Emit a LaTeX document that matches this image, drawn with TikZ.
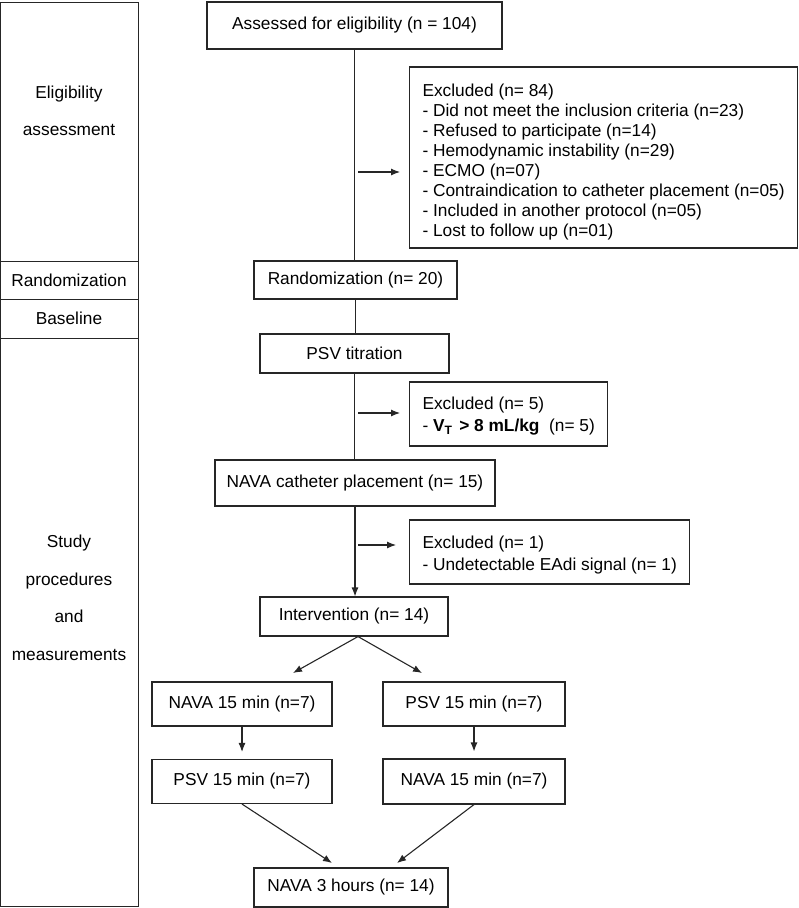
\documentclass[tikz,border=0pt]{standalone}
\usepackage{fontspec}
\setmainfont{Liberation Sans}
\usepackage{xcolor}
\usepackage{tikz}
\usetikzlibrary{calc}
\usetikzlibrary{arrows.meta}
\colorlet{boxline}{black!85}

\begin{document}
\begin{tikzpicture}[
		x=1pt,y=-1pt,
		FlowBox/.style={draw=boxline,line width=1.1pt,inner sep=0pt,align=center},
		ExclBox/.style={draw=boxline,line width=1.1pt,inner xsep=13pt,inner ysep=0pt,align=left,anchor=west},
		StageLabel/.style={align=center,font=\fontsize{17.3}{37.5}\selectfont},
		Flow/.style={draw=boxline,line width=1.1pt},
		FlowArrow/.style={draw=boxline,line width=1.1pt,-{Latex[length=9pt, width=7pt]}},
		every node/.style={font=\fontsize{17.3}{20}\selectfont}
		]
		\useasboundingbox (0,0) rectangle (799,908);
		
		% stages on the left
		\draw[boxline,line width=1pt] (0.5,2) rectangle (138,906);
		\draw[boxline,line width=1pt] (0.5,261)--(138,261);
		\draw[boxline,line width=1pt] (0.5,299)--(138,299);
		\draw[boxline,line width=1pt] (0.5,338)--(138,338);
		
		\node[StageLabel] (StElig) at (69,111) {Eligibility\\assessment};
		\node[StageLabel] (StRand) at (69,280) {Randomization};
		\node[StageLabel] (StBase) at (69,318) {Baseline};
		\node[StageLabel] (StProc) at (69,598) {Study\\procedures\\and\\measurements};
		
		% main column
		\node[FlowBox,minimum width=295,minimum height=47] (Assess) at (354.5,25.5) {Assessed for eligibility (n = 104)};
		\node[FlowBox,minimum width=203,minimum height=38] (Rand) at (355.5,280) {Randomization (n= 20)};
		\node[FlowBox,minimum width=189,minimum height=39] (Titr) at (354.5,353.5) {PSV titration};
		\node[FlowBox,minimum width=280,minimum height=46] (Cath) at (355,483) {NAVA catheter placement (n= 15)};
		\node[FlowBox,minimum width=188,minimum height=39] (Interv) at (354,616.5) {Intervention (n= 14)};
		
		\node[FlowBox,minimum width=180,minimum height=44] (NavaA) at (242,704) {NAVA 15 min (n=7)};
		\node[FlowBox,minimum width=182,minimum height=44] (PsvA) at (474,704) {PSV 15 min (n=7)};
		\node[FlowBox,minimum width=180,minimum height=44] (PsvB) at (242,781.5) {PSV 15 min (n=7)};
		\node[FlowBox,minimum width=182,minimum height=45] (NavaB) at (474,781.5) {NAVA 15 min (n=7)};
		\node[FlowBox,minimum width=194,minimum height=39] (Final) at (351,887.5) {NAVA 3 hours (n= 14)};
		
		% excluded patients
		\node[ExclBox,minimum height=181] (ExclA) at (409,157.5) {\rule{0pt}{22pt}Excluded (n= 84)\\
			- Did not meet the inclusion criteria (n=23)\\
			- Refused to participate (n=14)\\
			- Hemodynamic instability (n=29)\\
			- ECMO (n=07)\\
			- Contraindication to catheter placement (n=05)\\
			- Included in another protocol (n=05)\\
			- Lost to follow up (n=01)};
		\node[ExclBox,minimum height=64] (ExclB) at (409,414) {\rule{0pt}{17pt}Excluded (n= 5)\\[2pt]
			- \textbf{V\textsubscript{T}\ \ \!> 8 mL/kg}\ \ (n= 5)};
		\node[ExclBox,minimum height=64] (ExclC) at (409,552) {\rule{0pt}{18pt}Excluded (n= 1)\\[2pt]
			- Undetectable EAdi signal (n= 1)};
		
		\coordinate (OffA) at (358,172);
		\coordinate (OffB) at (358,413);
		\coordinate (OffC) at (358,545);
		
		\coordinate (TipL) at (293,673);
		\coordinate (TipR) at (422,673);
		\coordinate (EndL) at (332,863);
		\coordinate (EndR) at (397,863);
		
		\draw[Flow] (Assess.south) -- (Assess.south |- Rand.north);
		\draw[Flow] (Rand.south) -- (Rand.south |- Titr.north);
		\draw[Flow] (Titr.south) -- (Titr.south |- Cath.north);
		\draw[FlowArrow] (Cath.south) -- (Cath.south |- Interv.north);
		
		\draw[FlowArrow, shorten >=9pt] (OffA) -- (OffA -| ExclA.west);
		\draw[FlowArrow, shorten >=9pt] (OffB) -- (OffB -| ExclB.west);
		\draw[FlowArrow, shorten >=13pt] (OffC) -- (OffC -| ExclC.west);
		
		\draw[FlowArrow] ($(Interv.south)+(4,0)$) -- (TipL);
		\draw[FlowArrow] ($(Interv.south)+(4,0)$) -- (TipR);
		
		\draw[FlowArrow, shorten >=7pt] (NavaA) -- (PsvB);
		\draw[FlowArrow, shorten >=7pt] (PsvA) -- (NavaB);
		
		\draw[FlowArrow] (PsvB.south) -- (EndL);
		\draw[FlowArrow] (NavaB.south) -- (EndR);
		
		\end{tikzpicture}
\end{document}
